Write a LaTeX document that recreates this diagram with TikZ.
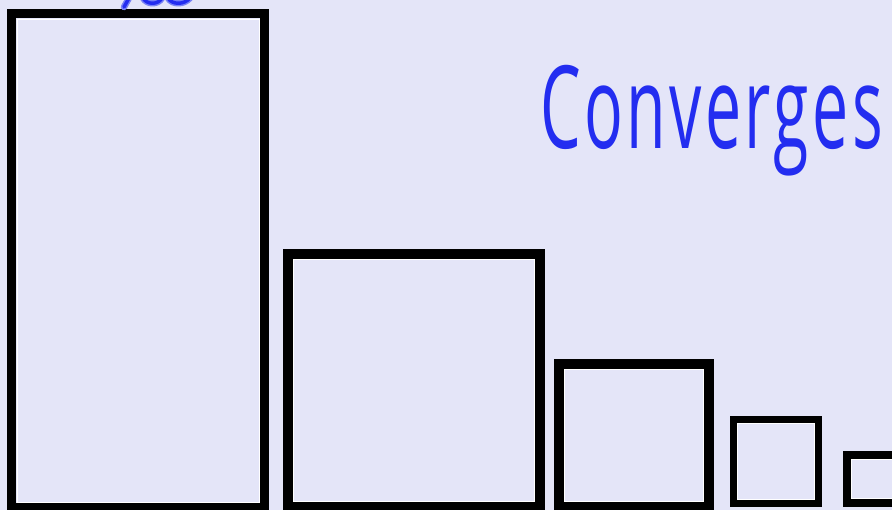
\documentclass[tikz,border=0pt]{standalone}
\usepackage{fontspec}
\setmainfont{Open Sans}
\newfontfamily\handfont[FakeStretch=0.56, LetterSpace=3]{Open Sans}
\definecolor{bg}{RGB}{228,229,248}
\definecolor{ink}{RGB}{35,45,240}
\definecolor{halo}{RGB}{120,130,245}
\tikzset{
  bar/.style={draw=black, fill=bg, line join=miter},
  shine/.style={draw=white, line width=1pt},
  pen/.style={draw=ink, line width=3.5pt, line cap=round, line join=round},
  penhalo/.style={draw=halo, line width=6.5pt, line cap=round, line join=round}
}
\begin{document}
\begin{tikzpicture}[x=1pt,y=-1pt]
\useasboundingbox (0,0) rectangle (892,509);
\clip (0,0) rectangle (892,509);
\fill[bg] (-5,-5) rectangle (897,514);
% bars
\draw[bar, line width=9.5pt] (11.5,13.5) rectangle (264.5,507.5);
\draw[shine] (17,19) rectangle (259,502.5);
\draw[bar, line width=10pt] (288,254) rectangle (540,507);
\draw[shine] (293.5,259.5) rectangle (534.5,501.5);
\draw[bar, line width=10pt] (559,364) rectangle (708.5,507);
\draw[shine] (564.5,369.5) rectangle (703,501.5);
\draw[bar, line width=7pt] (733.5,419.5) rectangle (818,503.5);
\draw[shine] (737.5,423.5) rectangle (814,499.5);
\draw[bar, line width=8pt] (847,454.5) rectangle (898,503);
\draw[shine] (851.5,459) rectangle (893,498.5);
% handwriting fragment at the top
\draw[penhalo] (129,-2) .. controls (127,3) .. (124,7);
\draw[penhalo] (143,-2) .. controls (147,5) and (158,5) .. (162,-2);
\draw[penhalo] (168,-2) .. controls (172,5) and (184,5) .. (190,-2);
\draw[pen] (129,-2) .. controls (127,3) .. (124,7);
\draw[pen] (143,-2) .. controls (147,5) and (158,5) .. (162,-2);
\draw[pen] (168,-2) .. controls (172,5) and (184,5) .. (190,-2);
% label
\node[text=ink, anchor=base west, inner sep=0pt,
      font=\handfont\fontsize{115}{115}\selectfont] (conv) at (540,148) {Converges};
\end{tikzpicture}
\end{document}
